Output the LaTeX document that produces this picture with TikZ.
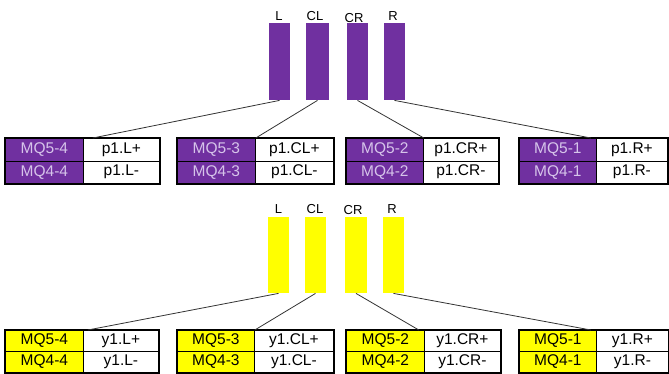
\documentclass[tikz,border=0pt]{standalone}
\usepackage{fontspec}
\setmainfont{Liberation Sans}
\definecolor{purp}{HTML}{7030A0}
\definecolor{purptext}{HTML}{D6C4EA}
\definecolor{yel}{HTML}{FFFF00}
\definecolor{wire}{HTML}{333333}
\tikzset{
  cellbase/.style={draw=black, line width=0.8pt, inner sep=0pt, anchor=north west,
    minimum height=22.5pt, font=\fontsize{15.5}{16}\selectfont},
  lowrow/.style={minimum height=21pt},
  pcell/.style={cellbase, fill=purp, text=purptext},
  ycell/.style={cellbase, fill=yel, text=black, lowrow},
  wcell/.style={cellbase, fill=white, text=black},
  pbar/.style={fill=purp, draw=none, inner sep=0pt, anchor=north},
  ybar/.style={fill=yel, draw=none, inner sep=0pt, anchor=north},
  toplabel/.style={font=\fontsize{13}{14}\selectfont, anchor=base, inner sep=0pt},
  frame/.style={draw=black, line width=1.8pt},
  wireline/.style={draw=wire, line width=0.8pt},
}
\begin{document}
\begin{tikzpicture}[x=1pt,y=-1pt]
\useasboundingbox (0,0) rectangle (669,373);

% ---------------- upper group ----------------
\node[toplabel] (uLl) at (279,20) {L};
\node[toplabel] (uCLl) at (315,20) {CL};
\node[toplabel] (uCRl) at (354,22.5) {CR};
\node[toplabel] (uRl) at (393,20) {R};

\node[pbar, minimum width=21pt, minimum height=77pt] (uL) at (279.5,23) {};
\node[pbar, minimum width=23pt, minimum height=77pt] (uCL) at (317.5,23) {};
\node[pbar, minimum width=21pt, minimum height=77pt] (uCR) at (357.5,23) {};
\node[pbar, minimum width=21pt, minimum height=77pt] (uR) at (394.5,23) {};

% table 1
\node[pcell, minimum width=78pt] (u1a) at (5,138) {MQ5-4};
\node[wcell, minimum width=76pt] (u1b) at (83,138) {p1.L+};
\node[pcell, minimum width=78pt] (u1c) at (5,160.5) {MQ4-4};
\node[wcell, minimum width=76pt] (u1d) at (83,160.5) {p1.L-};
\draw[frame] (u1a.north west) rectangle (u1d.south east);
% table 2
\node[pcell, minimum width=78pt] (u2a) at (177,138) {MQ5-3};
\node[wcell, minimum width=78pt] (u2b) at (255,138) {p1.CL+};
\node[pcell, minimum width=78pt] (u2c) at (177,160.5) {MQ4-3};
\node[wcell, minimum width=78pt] (u2d) at (255,160.5) {p1.CL-};
\draw[frame] (u2a.north west) rectangle (u2d.south east);
% table 3
\node[pcell, minimum width=77pt] (u3a) at (346,138) {MQ5-2};
\node[wcell, minimum width=75pt] (u3b) at (423,138) {p1.CR+};
\node[pcell, minimum width=77pt] (u3c) at (346,160.5) {MQ4-2};
\node[wcell, minimum width=75pt] (u3d) at (423,160.5) {p1.CR-};
\draw[frame] (u3a.north west) rectangle (u3d.south east);
% table 4
\node[pcell, minimum width=77pt] (u4a) at (519,138) {MQ5-1};
\node[wcell, minimum width=71pt] (u4b) at (596,138) {p1.R+};
\node[pcell, minimum width=77pt] (u4c) at (519,160.5) {MQ4-1};
\node[wcell, minimum width=71pt] (u4d) at (596,160.5) {p1.R-};
\draw[frame] (u4a.north west) rectangle (u4d.south east);

\draw[wireline] (uL.south) -- ([xshift=9pt]u1a.north east);
\draw[wireline] (uCL.south) -- (u2a.north east);
\draw[wireline] (uCR.south) -- (u3a.north east);
\draw[wireline] (uR.south) -- ([xshift=-6pt]u4a.north east);

% ---------------- lower group ----------------
\node[toplabel] (lLl) at (278.5,213) {L};
\node[toplabel] (lCLl) at (315,213) {CL};
\node[toplabel] (lCRl) at (353,214.5) {CR};
\node[toplabel] (lRl) at (392,213) {R};

\node[ybar, minimum width=21pt, minimum height=76pt] (lL) at (278.5,217) {};
\node[ybar, minimum width=21pt, minimum height=76pt] (lCL) at (315.5,217) {};
\node[ybar, minimum width=22pt, minimum height=76pt] (lCR) at (356,217) {};
\node[ybar, minimum width=21pt, minimum height=76pt] (lR) at (393.5,217) {};

% table 1
\node[ycell, minimum width=78pt] (l1a) at (5,330) {MQ5-4};
\node[wcell, lowrow, minimum width=75pt] (l1b) at (83,330) {y1.L+};
\node[ycell, minimum width=78pt] (l1c) at (5,351) {MQ4-4};
\node[wcell, lowrow, minimum width=75pt] (l1d) at (83,351) {y1.L-};
\draw[frame] (l1a.north west) rectangle (l1d.south east);
% table 2
\node[ycell, minimum width=77pt] (l2a) at (177,330) {MQ5-3};
\node[wcell, lowrow, minimum width=79pt] (l2b) at (254,330) {y1.CL+};
\node[ycell, minimum width=77pt] (l2c) at (177,351) {MQ4-3};
\node[wcell, lowrow, minimum width=79pt] (l2d) at (254,351) {y1.CL-};
\draw[frame] (l2a.north west) rectangle (l2d.south east);
% table 3
\node[ycell, minimum width=78pt] (l3a) at (346,330) {MQ5-2};
\node[wcell, lowrow, minimum width=76pt] (l3b) at (424,330) {y1.CR+};
\node[ycell, minimum width=78pt] (l3c) at (346,351) {MQ4-2};
\node[wcell, lowrow, minimum width=76pt] (l3d) at (424,351) {y1.CR-};
\draw[frame] (l3a.north west) rectangle (l3d.south east);
% table 4
\node[ycell, minimum width=77pt] (l4a) at (519,330) {MQ5-1};
\node[wcell, lowrow, minimum width=72pt] (l4b) at (596,330) {y1.R+};
\node[ycell, minimum width=77pt] (l4c) at (519,351) {MQ4-1};
\node[wcell, lowrow, minimum width=72pt] (l4d) at (596,351) {y1.R-};
\draw[frame] (l4a.north west) rectangle (l4d.south east);

\draw[wireline] (lL.south) -- ([xshift=4pt]l1a.north east);
\draw[wireline] (lCL.south) -- (l2a.north east);
\draw[wireline] (lCR.south) -- ([xshift=-6pt]l3a.north east);
\draw[wireline] (lR.south) -- ([xshift=-6pt]l4a.north east);
\end{tikzpicture}
\end{document}
